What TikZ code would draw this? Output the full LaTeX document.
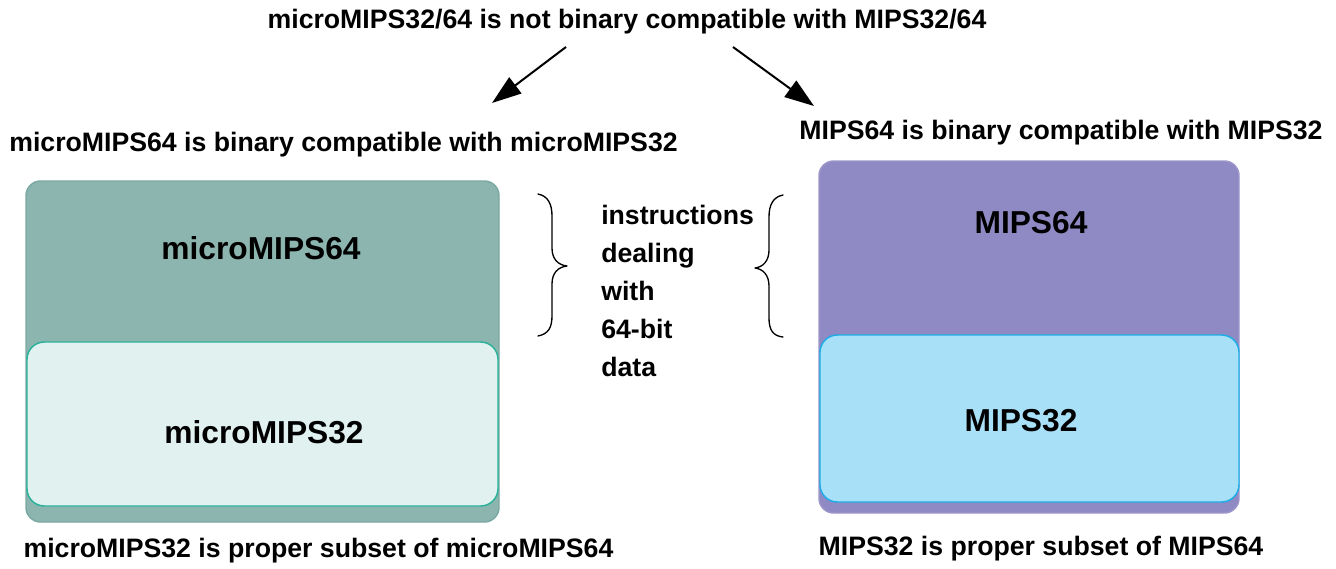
\documentclass[tikz,border=0pt]{standalone}
\usepackage{fontspec}
\setmainfont{Liberation Sans}
\usetikzlibrary{arrows.meta}
\definecolor{tealfill}{HTML}{8DB5AF}
\definecolor{tealline}{HTML}{79A9A1}
\definecolor{mintfill}{HTML}{E0F1EF}
\definecolor{mintline}{HTML}{2AB29B}
\definecolor{purpfill}{HTML}{8F8AC3}
\definecolor{purpline}{HTML}{9C96CB}
\definecolor{skyfill}{HTML}{A8E0F8}
\definecolor{skyline}{HTML}{1EADE6}
\tikzset{
  lbl/.style={inner sep=0pt, font=\fontsize{20}{24}\selectfont\bfseries},
  boxlbl/.style={inner sep=0pt, font=\fontsize{23.8}{28}\selectfont\bfseries},
  setbox/.style={draw, line width=1.1pt, rounded corners=11pt, inner sep=0pt},
  subbox/.style={draw, line width=1.1pt, rounded corners=13pt, inner sep=0pt},
  bigarrow/.style={line width=1.5pt, -{Triangle[length=22pt,width=15pt]}},
  bracepath/.style={line width=1pt, line cap=round, line join=round}
}
\begin{document}
\begin{tikzpicture}[x=0.75pt,y=-0.75pt]
\useasboundingbox (0,0) rectangle (1336,568);
% left group
\node[setbox, fill=tealfill, draw=tealline, minimum width=354.75pt, minimum height=255.75pt] (lout) at (262.5,351.5) {};
\node[subbox, fill=mintfill, draw=mintline, minimum width=353.25pt, minimum height=123pt] (lin) at (262.5,424) {};
\node[boxlbl] (l64) at (261,248) {microMIPS64};
\node[boxlbl] (l32) at (264,432) {microMIPS32};
% right group
\node[setbox, fill=purpfill, draw=purpline, minimum width=315pt, minimum height=264pt] (rout) at (1029,337) {};
\node[subbox, fill=skyfill, draw=skyline, minimum width=314.25pt, minimum height=125.25pt] (rin) at (1029.5,418.5) {};
\node[boxlbl] (r64) at (1031,223) {MIPS64};
\node[boxlbl] (r32) at (1021,421) {MIPS32};
% texts
\node[lbl] (title) at (627,22) {microMIPS32/64 is not binary compatible with MIPS32/64};
\node[lbl] (lcompat) at (343.5,145) {microMIPS64 is binary compatible with microMIPS32};
\node[lbl] (rcompat) at (1061,133) {MIPS64 is binary compatible with MIPS32};
\node[lbl] (lsub) at (318.5,551) {microMIPS32 is proper subset of microMIPS64};
\node[lbl] (rsub) at (1041,549) {MIPS32 is proper subset of MIPS64};
\node[lbl, align=left, anchor=west, font=\fontsize{20}{28.5}\selectfont\bfseries] (mid) at (601,291) {instructions\\dealing\\with\\64-bit\\data};
% arrows
\coordinate (la0) at (566,47);
\coordinate (la1) at (492,103);
\coordinate (ra0) at (733,47);
\coordinate (ra1) at (814,106);
\draw[bigarrow] (la0) -- (la1);
\draw[bigarrow] (ra0) -- (ra1);
% braces
\draw[bracepath] (538,194) .. controls (548,196) and (552,204) .. (552,216) -- (552,248)
  .. controls (552,259) and (558,265) .. (567,266)
  .. controls (558,267) and (552,273) .. (552,284) -- (552,316)
  .. controls (552,328) and (548,334) .. (538,336);
\draw[bracepath] (783,195) .. controls (773,197) and (769,205) .. (769,217) -- (769,250)
  .. controls (769,261) and (763,267) .. (755,268)
  .. controls (763,269) and (769,275) .. (769,286) -- (769,318)
  .. controls (769,330) and (773,336) .. (783,337);
\end{tikzpicture}
\end{document}
